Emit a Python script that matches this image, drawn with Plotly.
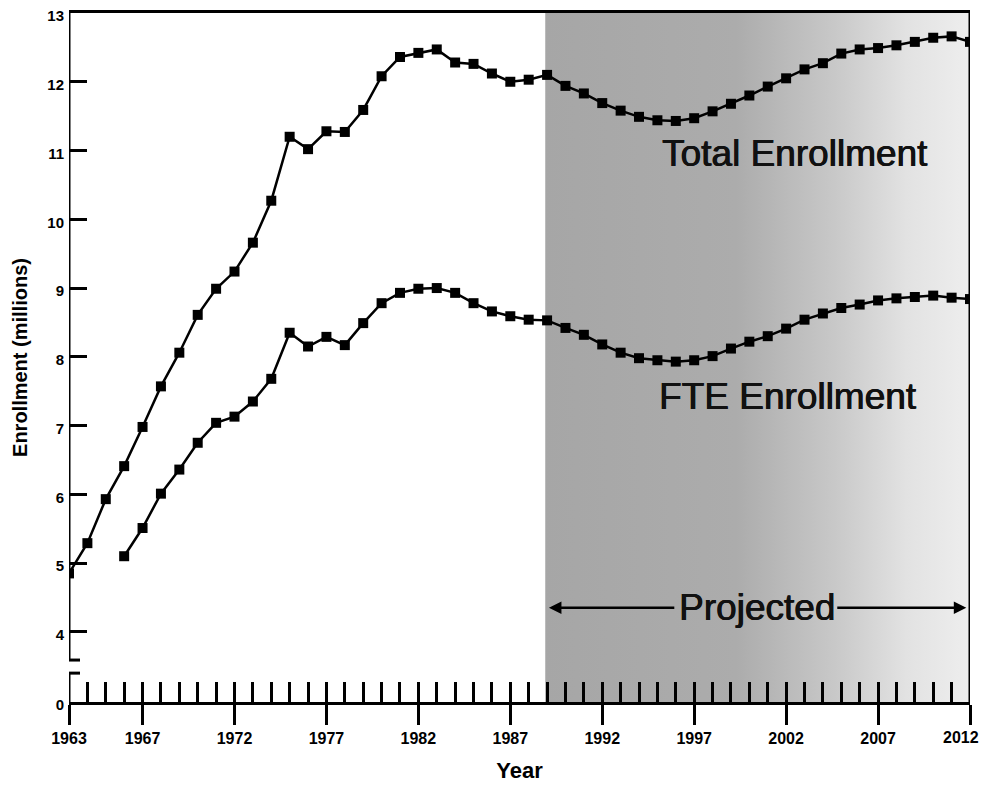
import plotly.graph_objects as go

YEARS_TOTAL = list(range(1963, 2013))
TOTAL = [4.85, 5.29, 5.93, 6.41, 6.98, 7.57, 8.06, 8.61, 8.99, 9.24,
         9.66, 10.27, 11.20, 11.02, 11.28, 11.27, 11.59, 12.08, 12.36, 12.42,
         12.47, 12.28, 12.26, 12.12, 12.00, 12.03, 12.10, 11.94, 11.83, 11.69,
         11.58, 11.49, 11.44, 11.43, 11.47, 11.57, 11.68, 11.80, 11.93, 12.05,
         12.18, 12.27, 12.41, 12.47, 12.49, 12.53, 12.58, 12.64, 12.66, 12.58]

YEARS_FTE = list(range(1966, 2013))
FTE = [5.10, 5.51, 6.01, 6.36, 6.75, 7.04, 7.13, 7.35, 7.68, 8.35,
       8.15, 8.29, 8.17, 8.49, 8.78, 8.93, 8.99, 9.00, 8.93, 8.78,
       8.66, 8.59, 8.54, 8.53, 8.42, 8.32, 8.18, 8.06, 7.98, 7.95,
       7.93, 7.95, 8.01, 8.12, 8.22, 8.30, 8.41, 8.54, 8.63, 8.71,
       8.76, 8.82, 8.85, 8.87, 8.89, 8.86, 8.84]

X_TICKS = [1963, 1967, 1972, 1977, 1982, 1987, 1992, 1997, 2002, 2007, 2012]
X_TICK_LABELS = [str(v) for v in X_TICKS]
Y_TICK_LABELS = ["0", "4", "5", "6", "7", "8", "9", "10", "11", "12", "13"]

PROJ_START = 1988.9
X_MIN, X_MAX = 1963, 2012
Y_TOP = 13
Y_ZERO = 2.98          # where the "0" of the broken axis sits
BREAK_HI, BREAK_LO = 3.59, 3.40
y_tickvals = [Y_ZERO] + list(range(4, 14))

FONT = "Liberation Sans, Arial, sans-serif"
BIG_SHADOW = "0.6px 0 0 #111111, -0.3px 0 0 #111111"
TICK_FONT_X = dict(family=FONT, size=16, weight="bold", color="black")

fig = go.Figure()

# shaded projected region (gradient)
fig.add_trace(go.Scatter(
    x=[PROJ_START, X_MAX, X_MAX, PROJ_START, PROJ_START],
    y=[Y_ZERO, Y_ZERO, Y_TOP, Y_TOP, Y_ZERO],
    mode="lines", line=dict(width=0), fill="toself",
    fillgradient=dict(type="horizontal",
                      colorscale=[[0, "#a6a6a6"], [0.45, "#acacac"],
                                  [0.68, "#c8c8c8"], [0.85, "#e2e2e2"],
                                  [1, "#eeeeee"]]),
    hoverinfo="skip", showlegend=False, xaxis="x"))

line_style = dict(color="black", width=2.5)
marker_style = dict(symbol="square", size=10, color="black")
fig.add_trace(go.Scatter(x=YEARS_TOTAL, y=TOTAL, mode="lines+markers",
                         line=line_style, marker=marker_style,
                         name="Total Enrollment", showlegend=False, xaxis="x2"))
fig.add_trace(go.Scatter(x=YEARS_FTE, y=FTE, mode="lines+markers",
                         line=line_style, marker=marker_style,
                         name="FTE Enrollment", showlegend=False, xaxis="x2"))

axis_w = 3
shapes = [
    # left axis with break
    dict(type="line", xref="x", yref="y", x0=X_MIN, x1=X_MIN, y0=BREAK_HI, y1=Y_TOP,
         line=dict(color="black", width=axis_w)),
    dict(type="line", xref="x", yref="y", x0=X_MIN, x1=X_MIN, y0=Y_ZERO, y1=BREAK_LO,
         line=dict(color="black", width=axis_w)),
    dict(type="line", xref="x", yref="y", x0=X_MIN - 0.45, x1=X_MIN + 0.6, y0=BREAK_HI, y1=BREAK_HI,
         line=dict(color="black", width=axis_w)),
    dict(type="line", xref="x", yref="y", x0=X_MIN, x1=X_MIN + 0.6, y0=BREAK_LO, y1=BREAK_LO,
         line=dict(color="black", width=axis_w)),
    # right border
    dict(type="line", xref="x", yref="y", x0=X_MAX, x1=X_MAX, y0=Y_ZERO, y1=Y_TOP,
         line=dict(color="black", width=axis_w)),
]

big_font = dict(family=FONT, size=37, color="#111111", shadow=BIG_SHADOW)
annotations = [
    dict(x=2002.5, y=10.95, xref="x", yref="y", text="Total Enrollment", showarrow=False,
         font=big_font),
    dict(x=2002.1, y=7.42, xref="x", yref="y", text="FTE Enrollment", showarrow=False,
         font=big_font),
    dict(x=2000.4, y=4.36, xref="x", yref="y", text="Projected", showarrow=False,
         font=big_font),
    dict(x=1989.1, y=4.35, ax=1996.0, ay=4.35, xref="x", yref="y", axref="x", ayref="y",
         text="", showarrow=True, arrowhead=2, arrowsize=1, arrowwidth=2.5, arrowcolor="black"),
    dict(x=2011.8, y=4.35, ax=2004.7, ay=4.35, xref="x", yref="y", axref="x", ayref="y",
         text="", showarrow=True, arrowhead=2, arrowsize=1, arrowwidth=2.5, arrowcolor="black"),
    # last year label, kept just inside the visible page edge
    dict(x=X_MAX, y=0, xref="x", yref="paper", text=X_TICK_LABELS[-1], showarrow=False,
         xanchor="right", yanchor="middle", xshift=11, yshift=-35, font=TICK_FONT_X),
]

# page body has an 8px margin, so the figure is sized/offset to compensate
fig.update_layout(
    width=983, height=775,
    margin=dict(l=61, r=21, t=5, b=81, autoexpand=False),
    paper_bgcolor="white", plot_bgcolor="white",
    font=dict(family=FONT, color="black"),
    showlegend=False,
    shapes=shapes, annotations=annotations,
    xaxis=dict(range=[X_MIN, X_MAX], tickvals=X_TICKS,
               ticktext=X_TICK_LABELS[:-1] + [""],
               ticks="outside", ticklen=20,
               tickwidth=2.5, tickcolor="black", showline=True, linewidth=axis_w,
               linecolor="black", mirror=True, showgrid=False, zeroline=False,
               ticklabeloverflow="allow",
               tickfont=TICK_FONT_X,
               title=dict(text="Year", font=dict(family=FONT, size=22, weight="bold"),
                          standoff=20)),
    xaxis2=dict(range=[X_MIN, X_MAX], matches="x", overlaying="x", side="bottom",
                tick0=1963, dtick=1, ticks="inside", ticklen=20, tickwidth=2.5,
                tickcolor="black", showticklabels=False, showline=False,
                showgrid=False, zeroline=False),
    yaxis=dict(range=[Y_ZERO, Y_TOP], tickvals=y_tickvals, ticktext=Y_TICK_LABELS,
               ticks="inside", ticklen=18, tickwidth=3, tickcolor="black",
               showline=False, showgrid=False, zeroline=False, ticklabelstandoff=4,
               ticklabeloverflow="allow", ticklabelshift=3,
               tickfont=dict(family=FONT, size=15, weight="bold"),
               title=dict(text="Enrollment (millions)",
                          font=dict(family=FONT, size=20, weight="bold"), standoff=14)),
)

fig.write_html("out.html")
